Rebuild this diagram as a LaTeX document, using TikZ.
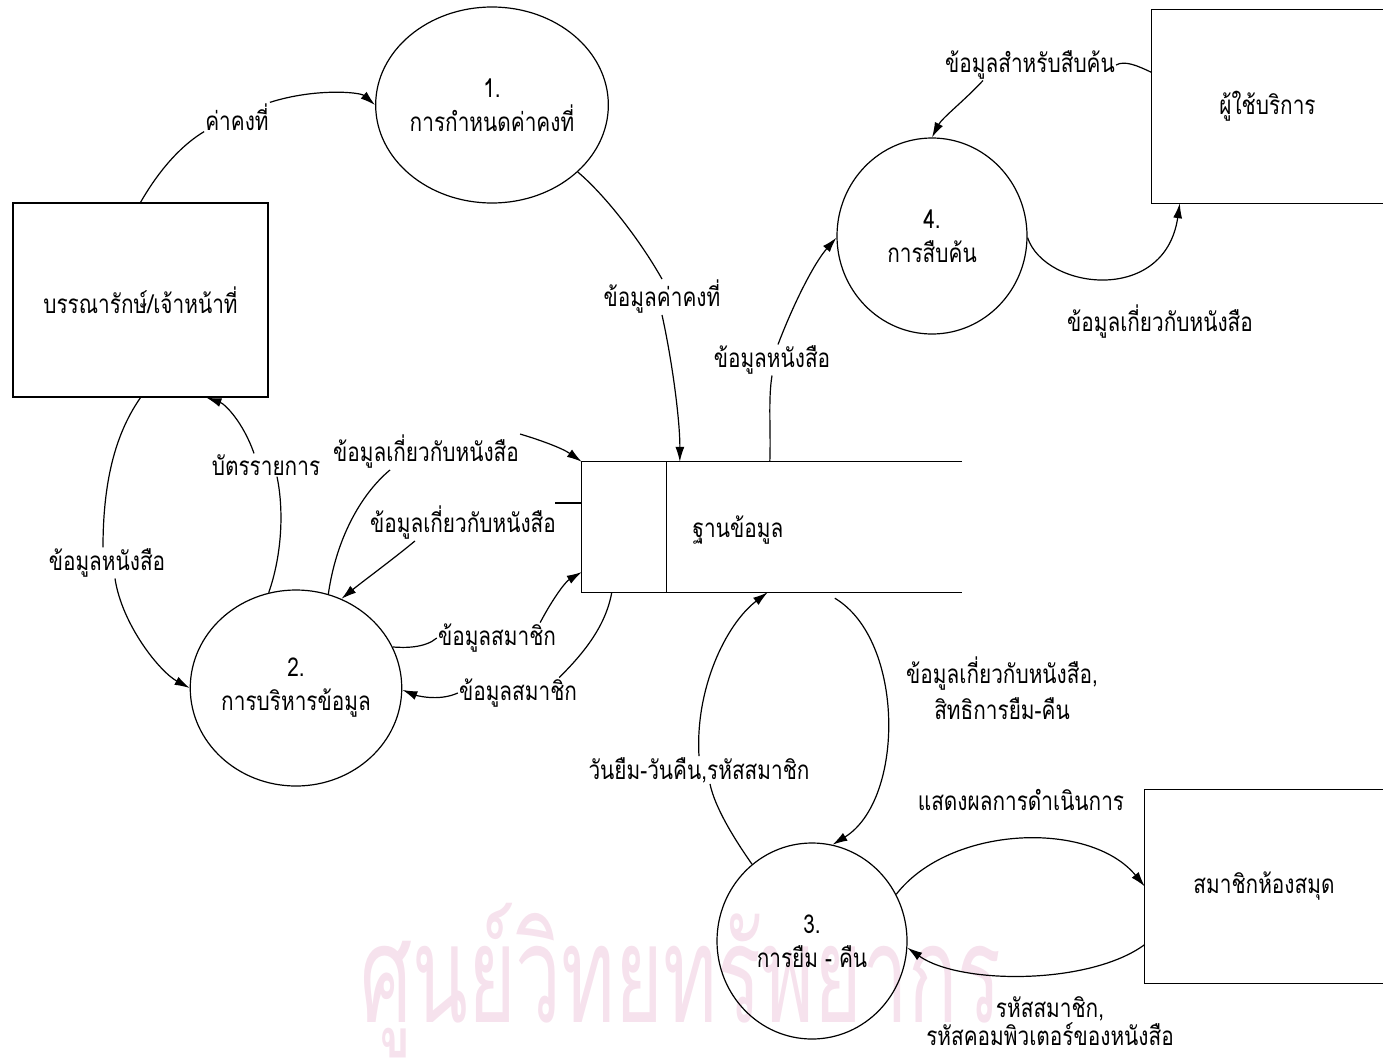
\documentclass[tikz,border=0pt]{standalone}
\usepackage{fontspec}
\usepackage{graphicx}
\newfontfamily\thai[Script=Thai, FakeStretch=0.8]{Loma}
\newfontfamily\thaiwm[Script=Thai]{Loma}
\usetikzlibrary{arrows.meta,shapes.geometric}
\definecolor{wmpink}{RGB}{246,226,237}
\begin{document}
\begin{tikzpicture}[x=1pt,y=-1pt,
  every node/.style={font=\thai\fontsize{26}{28}\selectfont, inner sep=1pt, text=black},
  proc/.style={draw, ellipse, line width=1.2pt, minimum width=190pt, minimum height=196pt, align=center, inner sep=0pt},
  entbox/.style={draw, line width=1.2pt},
  flow/.style={line width=1.2pt},
  arr/.style={flow, -{Latex[length=15pt,width=9pt]}},
  lbl/.style={align=center}]
\useasboundingbox (0,0) rectangle (1383,1060);
% watermark
\begin{scope}
\clip (0,0) rectangle (1383,1060);
\node[anchor=base, text=wmpink, font=\thaiwm\fontsize{136}{136}\selectfont, inner sep=0pt] (wm) at (681,1022) {\scalebox{0.6}[1]{ศูนย์วิทยทรัพยากร}};
\end{scope}
% external entities
\node[entbox, minimum width=255pt, minimum height=194pt] (ea) at (140.5,300) {บรรณารักษ์/เจ้าหน้าที่};
\node[minimum width=231pt, minimum height=193pt] (eu) at (1267.5,106.5) {ผู้ใช้บริการ};
\draw[flow] (eu.north east) -- (eu.north west) -- (eu.south west) -- (eu.south east);
\node[minimum width=238pt, minimum height=193pt] (em) at (1264,886.5) {สมาชิกห้องสมุด};
\draw[flow] (em.north east) -- (em.north west) -- (em.south west) -- (em.south east);
% processes
\node[proc] (c1) at (492,105) {1.\\[6pt]การกำหนดค่าคงที่};
\node[proc] (c2) at (296,688) {2.\\[6pt]การบริหารข้อมูล};
\node[proc] (c3) at (812,941) {3.\\[6pt]การยืม - คืน};
\node[proc] (c4) at (932,236) {4.\\[6pt]การสืบค้น};
% data store
\node[minimum width=380pt, minimum height=130pt] (ds) at (772,527) {};
\draw[flow] (ds.north east) -- (ds.north west) -- (ds.south west) -- (ds.south east);
\draw[flow] ([xshift=85pt]ds.north west) -- ([xshift=85pt]ds.south west);
\node (dsl) at (738,530) {ฐานข้อมูล};
% labels
\node (l1) at (237,117) {ค่าคงที่};
\node (l2) at (662,297) {ข้อมูลค่าคงที่};
\node (l3) at (772,360) {ข้อมูลหนังสือ};
\node (l4) at (1030,65) {ข้อมูลสำหรับสืบค้น};
\node (l5) at (1160,322) {ข้อมูลเกี่ยวกับหนังสือ};
\node (l6) at (107,563) {ข้อมูลหนังสือ};
\node (l7) at (266,465) {บัตรรายการ};
\node (l8) at (426,452) {ข้อมูลเกี่ยวกับหนังสือ};
\node (l9) at (463,523) {ข้อมูลเกี่ยวกับหนังสือ};
\node (l10) at (497,638) {ข้อมูลสมาชิก};
\node (l11) at (518,693) {ข้อมูลสมาชิก};
\node (l12) at (699,770) {วันยืม-วันคืน,รหัสสมาชิก};
\node[lbl] (l13) at (1002,688) {ข้อมูลเกี่ยวกับหนังสือ,\\[6pt]สิทธิการยืม-คืน};
\node (l14) at (1021,800) {แสดงผลการดำเนินการ};
\node[lbl] (l15) at (1050,1021) {รหัสสมาชิก,\\[0pt]รหัสคอมพิวเตอร์ของหนังสือ};
% flows
\draw[flow] (ea.north) .. controls (162,165) and (185,143) .. (l1.south west);
\draw[arr] (l1.north east) .. controls (315,88) and (360,92) .. (c1.west);
\draw[flow] (c1.-38) .. controls (605,195) and (640,240) .. (l2.north);
\draw[arr] (l2.south) .. controls (672,360) and (680,420) .. ([xshift=98pt]ds.north west);
\draw[flow] ([xshift=188pt]ds.north west) .. controls (771,430) and (768,400) .. (l3.south);
\draw[arr] ([xshift=6pt]l3.north) .. controls (795,300) and (815,262) .. (c4.181);
\draw[flow] ([yshift=34pt]eu.west) .. controls (1138,66) and (1125,60) .. (l4.east);
\draw[arr] ([xshift=-47pt]l4.south) .. controls (965,100) and (942,118) .. (c4.north);
\draw[arr] (c4.-1) .. controls (1045,290) and (1165,305) .. ([xshift=28pt]eu.south west);
\draw[flow] (ea.south) .. controls (118,430) and (103,475) .. ([xshift=-4pt]l6.north);
\draw[arr] ([xshift=8pt]l6.south) .. controls (122,625) and (160,672) .. (c2.180);
\draw[flow] (c2.106) .. controls (282,555) and (284,510) .. ([xshift=11pt]l7.south);
\draw[arr] ([xshift=-12pt]l7.north) .. controls (243,422) and (225,404) .. ([xshift=194pt]ea.south west);
\draw[flow] (c2.71) .. controls (336,540) and (360,495) .. ([xshift=-36pt]l8.south);
\draw[arr] (l8.north east) .. controls (540,440) and (562,448) .. (ds.north west);
\draw[flow] ([yshift=24pt]ds.west) -- ++(-27,0);
\draw[arr] ([xshift=-48pt]l9.south) .. controls (392,560) and (362,582) .. (c2.63);
\draw[flow] (c2.23) .. controls (405,648) and (425,648) .. (l10.west);
\draw[arr] ([xshift=-17pt]l10.north east) .. controls (552,600) and (565,582) .. ([yshift=-45pt]ds.west);
\draw[flow] ([xshift=30pt]ds.south west) .. controls (606,625) and (585,652) .. ([xshift=-19pt]l11.north east);
\draw[arr] (l11.west) .. controls (438,702) and (415,695) .. (c2.-1);
\draw[flow] (c3.128) .. controls (735,840) and (715,808) .. ([xshift=11pt]l12.south);
\draw[arr] (l12.north) .. controls (695,690) and (725,625) .. ([xshift=186pt]ds.south west);
\draw[arr] ([xshift=253pt,yshift=-6pt]ds.south west) .. controls (905,640) and (905,800) .. (c3.78);
\draw[arr] (c3.29) .. controls (950,825) and (1090,820) .. (em.west);
\draw[arr] ([yshift=-58pt]em.west) .. controls (1090,985) and (960,985) .. (c3.-4);
\end{tikzpicture}
\end{document}
